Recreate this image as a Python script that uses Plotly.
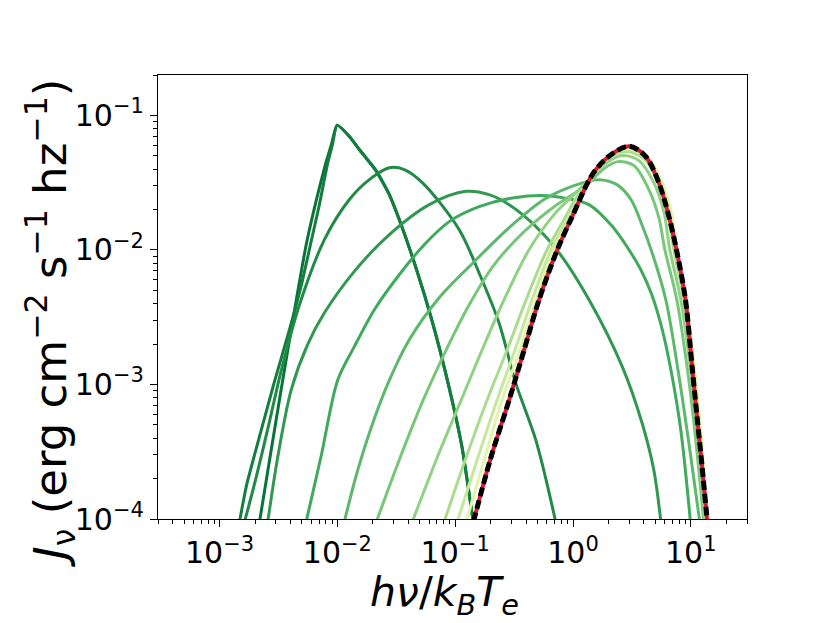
import numpy as np
import plotly.graph_objects as go

c0_lx = [-2.661, -2.562, -2.464, -2.356, -2.265, -2.178, -2.102, -2.051, -2.003,
         -1.898, -1.814, -1.672, -1.559, -1.475, -1.333, -1.192, -1.051, -0.941, -0.847]
c0_ly = [-4.02, -3.487, -2.966, -2.407, -1.961, -1.625, -1.365, -1.216, -1.072,
         -1.156, -1.253, -1.410, -1.588, -1.774, -2.132, -2.541, -3.025, -3.472, -4.02]

c1_lx = [-2.831, -2.771, -2.669, -2.542, -2.407, -2.305, -2.229, -2.153, -2.085, -2.042, -2.003,
         -1.898, -1.814, -1.672, -1.559, -1.475, -1.333, -1.192, -1.051, -0.941, -0.847]
c1_ly = [-4.02, -3.748, -3.412, -3.003, -2.593, -2.258, -1.961, -1.663, -1.365, -1.216, -1.072,
         -1.156, -1.253, -1.410, -1.588, -1.774, -2.132, -2.541, -3.025, -3.472, -4.02]

c2_lx = [-2.788, -2.695, -2.593, -2.475, -2.322, -2.110, -1.898, -1.729, -1.559, -1.432,
         -1.277, -0.966, -0.797, -0.627, -0.486, -0.316, -0.147]
c2_ly = [-4.02, -3.710, -3.338, -2.891, -2.407, -1.923, -1.625, -1.477, -1.389, -1.402,
         -1.501, -1.849, -2.171, -2.544, -2.990, -3.412, -4.02]

c3_lx = [-2.591, -2.506, -2.392, -2.254, -2.110, -1.856, -1.559, -1.220, -0.909,
         -0.712, -0.542, -0.331, -0.119, 0.136, 0.418, 0.587, 0.686, 0.746]
c3_ly = [-4.02, -3.537, -3.040, -2.705, -2.467, -2.159, -1.886, -1.663, -1.564,
         -1.588, -1.663, -1.812, -2.020, -2.370, -2.867, -3.288, -3.636, -4.02]

c4_lx = [-2.265, -2.136, -1.997, -1.856, -1.686, -1.475, -1.263, -1.051, -0.797, -0.500, -0.220,
         -0.006, 0.136, 0.333, 0.475, 0.576, 0.669, 0.754, 0.831, 0.915, 0.997]
c4_ly = [-4.02, -3.524, -2.966, -2.718, -2.444, -2.184, -1.961, -1.789, -1.678, -1.611, -1.596,
         -1.625, -1.663, -1.824, -1.998, -2.147, -2.333, -2.579, -2.891, -3.338, -4.02]

c5_lx = [-1.941, -1.839, -1.720, -1.576, -1.390, -1.136, -0.839, -0.542, -0.246, 0.008, 0.220,
         0.373, 0.492, 0.585, 0.669, 0.788, 0.898, 0.992, 1.076]
c5_ly = [-4.02, -3.673, -3.338, -3.003, -2.668, -2.355, -2.087, -1.834, -1.625, -1.521, -1.477,
         -1.514, -1.625, -1.812, -2.013, -2.370, -2.929, -3.487, -4.02]

c6_lx = [-1.669, -1.475, -1.271, -1.076, -0.881, -0.669, -0.415, -0.161, 0.119, 0.263, 0.381,
         0.517, 0.644, 0.729, 0.780, 0.881, 0.983, 1.051, 1.110]
c6_ly = [-4.02, -3.561, -3.115, -2.742, -2.407, -2.109, -1.864, -1.678, -1.514, -1.395, -1.343,
         -1.372, -1.551, -1.759, -1.998, -2.370, -2.966, -3.487, -4.02]

c7_lx = [-1.364, -1.161, -0.949, -0.771, -0.585, -0.373, -0.161, 0.008, 0.136, 0.263, 0.415,
         0.559, 0.686, 0.771, 0.822, 0.915, 1.008, 1.068, 1.119]
c7_ly = [-4.02, -3.561, -3.115, -2.742, -2.370, -1.998, -1.737, -1.588, -1.477, -1.365, -1.298,
         -1.335, -1.499, -1.715, -1.998, -2.370, -2.966, -3.487, -4.02]

c8_lx = [-1.093, -0.915, -0.729, -0.559, -0.398, -0.220, -0.076, 0.034, 0.136, 0.280, 0.449,
         0.602, 0.729, 0.805, 0.856, 0.941, 1.025, 1.085, 1.127]
c8_ly = [-4.02, -3.561, -3.115, -2.742, -2.370, -1.998, -1.774, -1.603, -1.477, -1.328, -1.268,
         -1.320, -1.506, -1.722, -1.998, -2.370, -2.966, -3.487, -4.02]

c9_lx = [-0.983, -0.814, -0.644, -0.492, -0.347, -0.186, -0.051, 0.051, 0.153, 0.305, 0.458,
         0.619, 0.746, 0.822, 0.873, 0.949, 1.034, 1.093, 1.131]
c9_ly = [-4.02, -3.561, -3.115, -2.742, -2.370, -1.998, -1.774, -1.611, -1.462, -1.313, -1.253,
         -1.313, -1.499, -1.737, -1.998, -2.370, -2.966, -3.487, -4.02]

c10_lx = [-0.907, -0.754, -0.602, -0.449, -0.314, -0.161, -0.034, 0.068, 0.161, 0.322, 0.466,
          0.627, 0.754, 0.839, 0.881, 0.958, 1.038, 1.097, 1.136]
c10_ly = [-4.02, -3.561, -3.115, -2.742, -2.370, -1.998, -1.789, -1.611, -1.454, -1.298, -1.246,
          -1.305, -1.491, -1.737, -2.013, -2.370, -2.929, -3.487, -4.02]

wien_lx = [-0.845, -0.703, -0.542, -0.415, -0.288, -0.133, -0.006, 0.164, 0.305, 0.475,
           0.616, 0.729, 0.814, 0.884, 0.955, 1.011, 1.053, 1.096, 1.140]
wien_ly = [-4.02, -3.561, -3.115, -2.743, -2.370, -1.998, -1.750, -1.439, -1.303, -1.229,
           -1.303, -1.501, -1.750, -2.022, -2.370, -2.867, -3.239, -3.611, -4.02]

curves = [(c0_lx, c0_ly), (c1_lx, c1_ly), (c2_lx, c2_ly), (c3_lx, c3_ly), (c4_lx, c4_ly),
          (c5_lx, c5_ly), (c6_lx, c6_ly), (c7_lx, c7_ly), (c8_lx, c8_ly), (c9_lx, c9_ly),
          (c10_lx, c10_ly)]

colors = ["rgb(8,116,58)", "rgb(20,126,62)", "rgb(32,138,70)", "rgb(48,152,80)",
          "rgb(64,170,92)", "rgb(92,184,106)", "rgb(120,198,121)", "rgb(145,209,131)",
          "rgb(171,220,141)", "rgb(198,232,154)", "rgb(226,244,170)"]

x_major = [1e-3, 1e-2, 1e-1, 1, 10]
x_major_text = ["10<sup>\u22123</sup>", "10<sup>\u22122</sup>", "10<sup>\u22121</sup>",
                "10<sup>0</sup>", "10<sup>1</sup>"]
y_major = [1e-4, 1e-3, 1e-2, 1e-1]
y_major_text = ["10<sup>\u22124</sup>", "10<sup>\u22123</sup>", "10<sup>\u22122</sup>",
                "10<sup>\u22121</sup>"]

x_lim = [3e-4, 30]
y_lim = [1e-4, 0.2]

x_minor = [k * 10.0 ** n for n in range(-4, 2) for k in range(2, 10)
           if x_lim[0] * 0.999 <= k * 10.0 ** n <= x_lim[1] * 1.001]
y_minor = [k * 10.0 ** n for n in range(-4, 0) for k in range(2, 10)
           if y_lim[0] <= k * 10.0 ** n <= y_lim[1] * 1.001]

fig = go.Figure()
for i, (lx, ly) in enumerate(curves):
    fig.add_trace(go.Scatter(
        x=10 ** np.array(lx), y=10 ** np.array(ly), mode="lines",
        line=dict(color=colors[i], width=3.0, shape="spline",
                  smoothing=0.5 if i < 2 else 0.9),
        showlegend=False, hoverinfo="skip"))

fig.add_trace(go.Scatter(
    x=10 ** np.array(wien_lx), y=10 ** np.array(wien_ly), mode="lines",
    line=dict(color="rgb(214,26,50)", width=4.0, shape="spline", smoothing=0.9),
    showlegend=False, hoverinfo="skip"))
fig.add_trace(go.Scatter(
    x=10 ** np.array(wien_lx), y=10 ** np.array(wien_ly), mode="lines",
    line=dict(color="black", width=5.0, dash="9px,4px", shape="spline", smoothing=0.9),
    showlegend=False, hoverinfo="skip"))

axis_common = dict(type="log", showgrid=False, zeroline=False, showline=True,
                   linecolor="black", linewidth=1.3, mirror=True, ticks="outside",
                   ticklen=7, tickwidth=1.2, tickcolor="black",
                   tickfont=dict(family="DejaVu Sans", size=30, color="black"))

fig.update_xaxes(range=[np.log10(x_lim[0]), np.log10(x_lim[1])],
                 tickmode="array", tickvals=x_major, ticktext=x_major_text,
                 minor=dict(tickmode="array", tickvals=x_minor, ticks="outside",
                            ticklen=4, tickwidth=1, tickcolor="black", showgrid=False),
                 **axis_common)
fig.update_yaxes(range=[np.log10(y_lim[0]), np.log10(y_lim[1])],
                 tickmode="array", tickvals=y_major, ticktext=y_major_text,
                 minor=dict(tickmode="array", tickvals=y_minor, ticks="outside",
                            ticklen=4, tickwidth=1, tickcolor="black", showgrid=False),
                 **axis_common)

fig.add_annotation(text="<i>h\u03bd</i>/<i>k</i><sub><i>B</i></sub><i>T</i><sub><i>e</i></sub>",
                   xref="paper", yref="paper", x=0.487, y=-0.172, xanchor="center",
                   yanchor="middle", showarrow=False,
                   font=dict(family="DejaVu Sans", size=41, color="black"))
fig.add_annotation(text="<i>J</i><sub>\u03bd</sub> (erg cm<sup>\u22122</sup> s<sup>\u22121</sup> hz<sup>\u22121</sup>)",
                   xref="paper", yref="paper", x=-0.183, y=0.441, xanchor="center",
                   yanchor="middle", showarrow=False, textangle=-90,
                   font=dict(family="DejaVu Sans", size=45, color="black"))

fig.update_layout(width=830, height=623, paper_bgcolor="white", plot_bgcolor="white",
                  margin=dict(l=150, r=91, t=67, b=112), showlegend=False)

fig.write_html("out.html")
